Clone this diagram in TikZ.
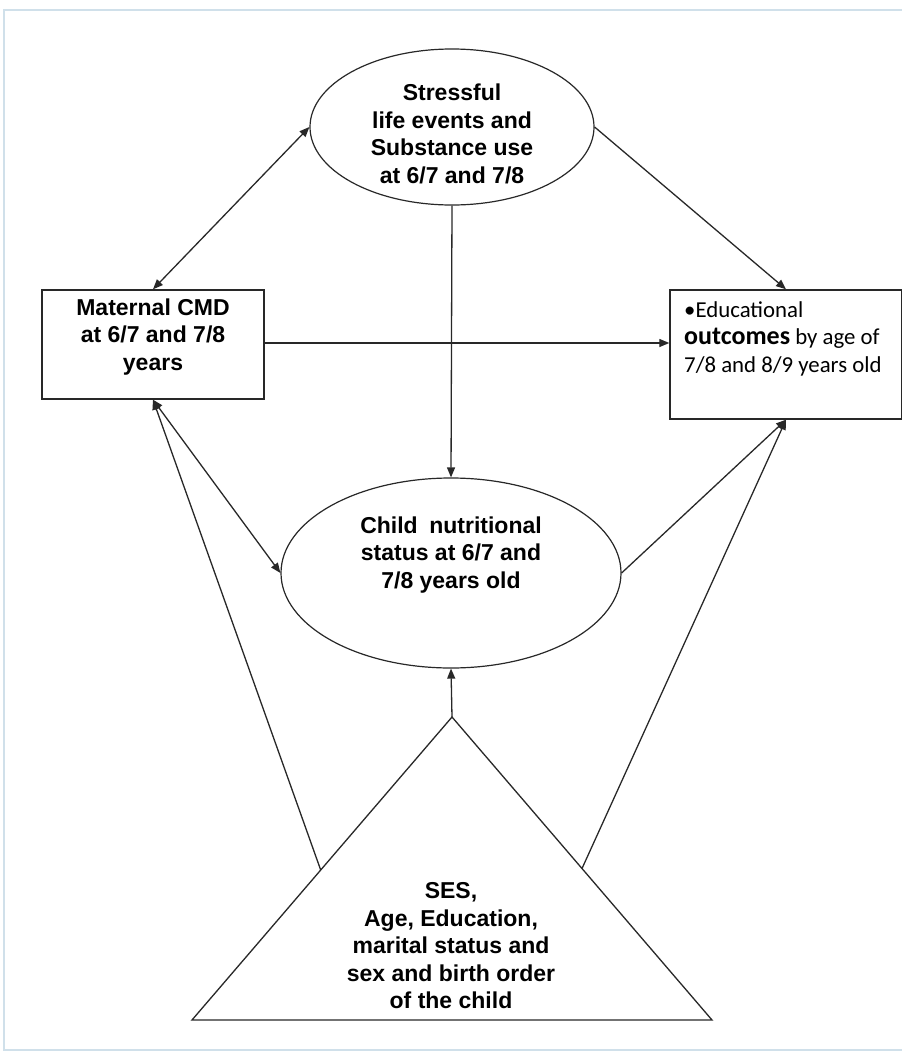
\documentclass[tikz,border=0pt]{standalone}
\usepackage{fontspec}
\setmainfont{Liberation Sans}
\newfontfamily\calibri{Carlito}
\usetikzlibrary{shapes.geometric,arrows.meta,calc}
\definecolor{framecol}{RGB}{208,224,234}
\definecolor{linecol}{RGB}{40,40,40}
\begin{document}
\begin{tikzpicture}[x=1pt,y=-1pt,
  conn/.style={line width=1.3pt, draw=linecol},
  tipend/.style={-{Triangle[length=10pt,width=8pt]}},
  tipboth/.style={{Triangle[length=10pt,width=8pt]}-{Triangle[length=10pt,width=8pt]}},
  oval/.style={ellipse, draw=linecol, line width=1.2pt, inner sep=0pt},
  boxnode/.style={rectangle, draw=linecol, line width=1.4pt, inner sep=0pt},
  bigtext/.style={font=\fontsize{23}{27.5}\selectfont\bfseries, align=center, inner sep=0pt}
]
\useasboundingbox (0,0) rectangle (902,1052);
\fill[white] (0,0) rectangle (902,1052);
% frame
\draw[framecol, line width=1.5pt] (910,10) -- (4,10) -- (4,1050) -- (910,1050);

% ellipses
\node[oval, minimum width=284pt, minimum height=156pt] (top) at (452,127) {};
\node[bigtext] (toptext) at (452,134) {Stressful\\life events and\\Substance use\\at 6/7 and 7/8};

\node[oval, minimum width=340pt, minimum height=190pt] (mid) at (451,573) {};
\node[bigtext] (midtext) at (451,555) {Child\hspace{0.5em}nutritional\\status at 6/7 and\\7/8 years old};

% boxes
\node[boxnode, minimum width=222pt, minimum height=109pt] (mat) at (153,344.5) {};
\node[bigtext] (mattext) at (153,337) {Maternal CMD\\at 6/7 and 7/8\\years};

\node[boxnode, minimum width=232pt, minimum height=129pt] (out) at (786,354.5) {};
\node[inner sep=0pt, anchor=north west, align=left, font=\calibri\fontsize{22.8}{27.5}\selectfont] (outtext) at (684,301)
  {•Educational\\{\fontsize{26}{27.5}\selectfont\bfseries outcomes} by age of\\7/8 and 8/9 years old};

% triangle
\coordinate (apex) at (452,717);
\coordinate (bl) at (192,1020);
\coordinate (br) at (712,1020);
\draw[linecol, line width=1.3pt] (apex) -- (bl) -- (br) -- cycle;
\node[bigtext] (tritext) at (451,946) {SES,\\Age, Education,\\marital status and\\sex and birth order\\of the child};
\coordinate (tl) at ($(apex)!0.505!(bl)$);
\coordinate (tr) at ($(apex)!0.5!(br)$);

% connectors
\draw[conn, tipboth] (mat.north) -- (top.west);
\draw[conn, tipend] (top.east) -- (out.north);
\draw[conn, tipend] (mat.east |- 0,343) -- (out.west |- 0,343);
\draw[conn, tipend] (top.south) -- (mid.north);
\draw[conn, tipboth] (mat.south) -- (mid.west);
\draw[conn, tipend] (tl) -- (mat.south);
\draw[conn, tipend] (mid.east) -- (out.south);
\draw[conn, tipend] (tr) -- (out.south);
\draw[conn, tipend] (apex) -- (mid.south);
\end{tikzpicture}
\end{document}
